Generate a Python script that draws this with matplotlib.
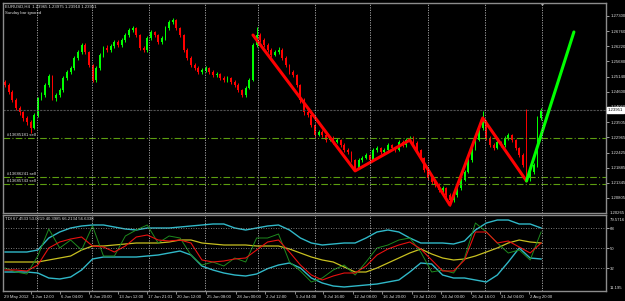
import numpy as np
import matplotlib.pyplot as plt
import matplotlib.transforms as mtransforms

# EURUSD H4 - prices in pips above 1.20000 (one candle per two H4 bars)
first_open = 496
closes = [484, 459, 430, 402, 387, 366, 352, 330, 377, 437,
          448, 484, 516, 437, 448, 466, 509, 530, 544, 580,
          601, 626, 601, 555, 502, 544, 591, 616, 609, 623,
          637, 626, 644, 662, 680, 687, 662, 616, 609, 651,
          673, 662, 637, 651, 687, 709, 716, 687, 662, 609,
          580, 555, 544, 530, 537, 544, 530, 519, 523, 509,
          502, 509, 494, 484, 466, 448, 473, 502, 626, 662,
          644, 626, 609, 591, 601, 609, 580, 555, 530, 519,
          484, 430, 387, 377, 341, 305, 316, 305, 287, 294,
          280, 287, 269, 252, 244, 216, 187, 216, 223, 234,
          216, 252, 259, 244, 252, 269, 259, 252, 280, 269,
          287, 294, 277, 252, 223, 180, 152, 137, 127, 109,
          116, 91, 73, 91, 116, 145, 173, 216, 259, 287,
          330, 352, 294, 269, 259, 280, 269, 294, 305, 287,
          259, 234, 198, 152, 173, 198, 366, 395]
highs = [503, 490, 466, 438, 410, 392, 374, 358, 384, 441,
         458, 490, 524, 520, 455, 473, 515, 537, 552, 588,
         610, 634, 632, 606, 560, 550, 598, 623, 626, 630,
         645, 643, 651, 670, 688, 696, 692, 666, 622, 657,
         680, 678, 667, 658, 694, 716, 723, 720, 692, 666,
         614, 586, 562, 550, 545, 551, 549, 536, 530, 528,
         515, 516, 514, 500, 490, 471, 480, 510, 633, 690,
         670, 650, 632, 615, 610, 618, 614, 586, 560, 537,
         524, 488, 436, 395, 382, 346, 324, 322, 310, 302,
         300, 295, 292, 275, 258, 249, 220, 222, 230, 241,
         238, 258, 266, 264, 259, 276, 274, 264, 287, 286,
         294, 302, 300, 282, 256, 228, 186, 158, 144, 133,
         124, 121, 97, 98, 122, 151, 180, 222, 265, 294,
         337, 392, 358, 300, 275, 287, 285, 300, 312, 310,
         292, 264, 240, 398, 180, 205, 372, 400]
lows = [476, 452, 422, 395, 378, 356, 340, 312, 325, 370,
        430, 441, 478, 430, 428, 441, 460, 502, 523, 538,
        572, 595, 594, 548, 495, 496, 538, 584, 600, 602,
        616, 618, 620, 638, 655, 674, 655, 608, 600, 603,
        645, 655, 630, 630, 645, 680, 700, 680, 655, 602,
        573, 548, 537, 522, 524, 530, 523, 512, 513, 501,
        495, 496, 487, 476, 458, 440, 442, 468, 498, 620,
        638, 618, 602, 584, 586, 595, 573, 548, 523, 512,
        477, 420, 378, 370, 333, 297, 300, 298, 280, 282,
        273, 275, 262, 245, 237, 209, 177, 182, 210, 218,
        210, 212, 246, 238, 238, 246, 252, 245, 247, 263,
        263, 281, 270, 245, 216, 173, 145, 130, 120, 102,
        103, 84, 52, 66, 85, 110, 140, 168, 210, 253,
        282, 324, 288, 262, 252, 254, 262, 264, 288, 280,
        252, 227, 190, 140, 141, 166, 192, 360]

# zigzag swings and projection (candle index, pips)
zz_bars = [68, 96, 111, 122, 131, 143]
zz_pips = [662, 177, 287, 55, 366, 141]
proj_bars = [143, 156]
proj_pips = [141, 673]

# open orders
order_names = ['#13685181 sell', '#13686241 sell', '#13685743 sell']
order_pips = [294.5, 155, 130]

last_price = 1.23951
header = 'EURUSD,H4  1.23965 1.23975 1.23910 1.23951'

price_ticks = [1.27300, 1.26760, 1.26220, 1.25680, 1.25140, 1.24600, 1.24060,
               1.23505, 1.22965, 1.22425, 1.21885, 1.21345, 1.20805]

time_labels = ['1 Jun 12:00', '6 Jun 04:00', '8 Jun 20:00', '13 Jun 12:00',
               '17 Jun 21:01', '20 Jun 12:00', '25 Jun 08:00', '28 Jun 00:00',
               '2 Jul 12:00', '5 Jul 04:00', '9 Jul 16:00', '12 Jul 08:00',
               '16 Jul 20:00', '19 Jul 12:00', '24 Jul 00:00', '26 Jul 16:00',
               '31 Jul 04:00', '2 Aug 20:00']
time_ticks = [7.1, 15.1, 23.0, 31.0, 38.9, 46.9, 55.2, 63.4, 71.3, 79.5,
              87.3, 95.4, 103.4, 111.6, 119.6, 127.8, 135.8, 143.7]
week_lines = [8.8, 23.9, 39.5, 54.8, 69.4, 85.0, 100.1, 116.0, 131.6, 147.3]

# TDI values, sampled every 3 candles
tdi_up = [46.4, 46.4, 46.4, 48.2, 59, 64.4, 68, 69.8, 70.7, 70.7,
          68.9, 67.1, 66.2, 68, 68, 68, 68.9, 69.8, 70.7, 71.6,
          71.6, 68, 66.2, 68, 69.8, 70.7, 66.2, 59, 54.5, 52.7,
          53.6, 54.5, 54.5, 59, 64.4, 66.2, 64.4, 59, 54.5, 54.5,
          54.5, 53.6, 56.3, 66.2, 72.5, 75.2, 75.2, 71.6, 71.6, 68]
tdi_low = [28.4, 28.4, 28.4, 27.5, 23, 22.1, 23.9, 30.2, 40.1, 41.9,
           41.9, 41.9, 41.9, 42.8, 43.7, 45.5, 47.3, 43.7, 33.8, 30.2,
           27.5, 25.7, 24.8, 26.6, 31.4, 34.7, 36.5, 32, 23, 18.5,
           15.8, 14.9, 15.8, 16.7, 17.6, 19.4, 21.2, 28.4, 36.5, 35.6,
           25.7, 23, 23, 21.2, 19.4, 25.7, 37.4, 50, 41, 40.1]
tdi_mid = [37.4, 37.4, 37.4, 37.4, 39.2, 41, 42.8, 48.2, 51.8, 51.8,
           52.7, 53.6, 54.5, 54.5, 54.5, 55.4, 57.2, 57.2, 54.5, 53.6,
           52.7, 52.7, 52.7, 51.8, 51.8, 51.8, 49.1, 45.5, 41.9, 39.2,
           37.4, 32.9, 28.4, 28.4, 32, 36.5, 41, 45.5, 49.1, 44.6,
           41, 39.2, 40.1, 42.8, 46.4, 50, 54.5, 57.2, 55.4, 54.5]
tdi_sig = [30.2, 30.2, 29.3, 34.7, 50, 55.4, 58.1, 59.9, 51.8, 50.9,
           46.4, 51.8, 59.9, 61.7, 57.2, 56.3, 57.2, 54.5, 39.2, 37.4,
           38.3, 40.1, 41, 48.2, 55.4, 57.2, 46.4, 34.7, 25.7, 21.2,
           24.8, 27.5, 27.5, 33.8, 43.7, 49.1, 52.7, 55.4, 49.1, 39.2,
           29.3, 29.3, 39.2, 64.4, 64.4, 54.5, 56.3, 50.9, 45.5, 54.5]
tdi_rsi = [32, 28.4, 26.6, 42.8, 67.1, 50, 57.2, 48.2, 69.8, 42.8,
           42.8, 60.8, 66.2, 70.7, 54.5, 60.8, 59, 43.7, 34.7, 37.4,
           33.8, 41, 37.4, 59, 59, 62.6, 37.4, 29.3, 19.4, 23,
           30.2, 34.7, 25.7, 37.4, 50, 52.7, 57.2, 59, 46.4, 28.4,
           30.2, 27.5, 41, 72.5, 64.4, 54.5, 45.5, 48.2, 39.2, 64.4]
tdi_text = 'TDI 67.4533 53.0219 40.3985 66.2134 56.6338'


def pip(p):
    return 1.2 + np.asarray(p, dtype=float) / 10000


plt.rcParams['font.family'] = ['Liberation Sans', 'DejaVu Sans']
txt = '#e0e0e0'
fs = 3.1

fig = plt.figure(figsize=(6.25, 3.01), dpi=100, facecolor='black')
ax = fig.add_axes([3 / 625, 88 / 301, 603 / 625, 210 / 301], facecolor='black')
ax2 = fig.add_axes([3 / 625, 10 / 301, 603 / 625, 76 / 301], facecolor='black', sharex=ax)

# candles
n = len(closes)
xs = np.arange(n)
o = pip([first_open] + closes[:-1])
c = pip(closes)
col = np.where(c >= o, '#00ff00', '#ff0000')
ax.vlines(xs, pip(lows), pip(highs), colors=col, lw=0.7)
body = np.where(np.abs(c - o) < 0.00004, 0.00004, c - o)
ax.bar(xs, body, bottom=o, width=0.5, color=col, lw=0)

# order levels
for name, p in zip(order_names, order_pips):
    ax.axhline(pip(p), color='#5c9e10', lw=0.8, ls=(0, (6, 2, 1, 2)))
    ax.text(0.5, pip(p) + 0.0003, name, color=txt, fontsize=fs, va='bottom', ha='left')

ax.axhline(last_price, color='#505050', lw=0.8, ls=(0, (2, 1)))

# zigzag and projection
ax.plot(zz_bars, pip(zz_pips), color='#ff0000', lw=2.2, solid_capstyle='round')
ax.plot(proj_bars, pip(proj_pips), color='#00ff00', lw=2.2, solid_capstyle='round')

for w in week_lines:
    ax.axvline(w, color='#b0b0b0', lw=0.6, ls=(0, (1.5, 1.5)))
    ax2.axvline(w, color='#b0b0b0', lw=0.6, ls=(0, (1.5, 1.5)))

ax.set_xlim(-0.55, 164.8)
ax.set_ylim(1.20267, 1.27764)
ax.yaxis.tick_right()
ax.set_yticks(price_ticks)
ax.set_yticklabels(['%.5f' % t for t in price_ticks])
ax.tick_params(axis='y', colors=txt, labelsize=fs, length=2, width=0.5, pad=1)
ax.tick_params(axis='x', bottom=False, labelbottom=False)
ax.text(1.003, last_price, '%.5f' % last_price, transform=ax.get_yaxis_transform(),
        fontsize=fs, color='black', va='center', ha='left',
        bbox=dict(boxstyle='square,pad=0.2', fc='white', ec='white'))
ax.text(1.006, 1.20265, '1.20265', transform=ax.get_yaxis_transform(),
        fontsize=fs, color=txt, va='center', ha='left')
ax.text(0.004, 0.995, header, transform=ax.transAxes, fontsize=fs, color=txt, va='top')
ax.text(0.004, 0.963, 'Sunday bar ignored', transform=ax.transAxes, fontsize=fs, color=txt, va='top')
ax.plot([147.3], [1.2775], marker='v', color='#b0b0b0', ms=2.5)

# TDI panel
tx = np.arange(len(tdi_up)) * 3
ax2.plot(tx, tdi_up, color='#30b8c8', lw=1.0)
ax2.plot(tx, tdi_low, color='#30b8c8', lw=1.0)
ax2.plot(tx, tdi_mid, color='#c8c020', lw=0.9)
ax2.plot(tx, tdi_rsi, color='#1e8a1e', lw=0.7)
ax2.plot(tx, tdi_sig, color='#e81010', lw=0.8)
for lvl in [68, 50, 32]:
    ax2.axhline(lvl, color='#a0a0a0', lw=0.6, ls=(0, (1, 2)))
ax2.set_ylim(11.3, 79.7)
ax2.yaxis.tick_right()
ax2.set_yticks([68, 50, 32])
ax2.set_yticklabels(['68', '50', '32'])
ax2.tick_params(axis='y', colors=txt, labelsize=fs, length=2, width=0.5, pad=1)
ax2.text(1.006, 0.93, '79.5716', transform=ax2.transAxes, fontsize=fs, color=txt, va='center')
ax2.text(1.006, 0.04, '11.195', transform=ax2.transAxes, fontsize=fs, color=txt, va='center')
ax2.text(0.004, 0.97, tdi_text, transform=ax2.transAxes, fontsize=fs, color=txt, va='top')

# time axis
ax2.set_xticks(time_ticks)
ax2.set_xticklabels([''] * len(time_ticks))
ax2.tick_params(axis='x', colors='#c0c0c0', length=2, width=0.5)
blend = mtransforms.blended_transform_factory(ax2.transData, ax2.transAxes)
ax2.text(-0.4, -0.05, '29 May 2012', transform=blend, fontsize=fs, color=txt, va='top', ha='left')
for t, lab in zip(time_ticks, time_labels):
    ax2.text(t + 0.3, -0.05, lab, transform=blend, fontsize=fs, color=txt, va='top', ha='left')

for a in (ax, ax2):
    for s in a.spines.values():
        s.set_color('#8c8c8c')
        s.set_linewidth(1.0)

plt.savefig('out.png', dpi=100, facecolor='black')
